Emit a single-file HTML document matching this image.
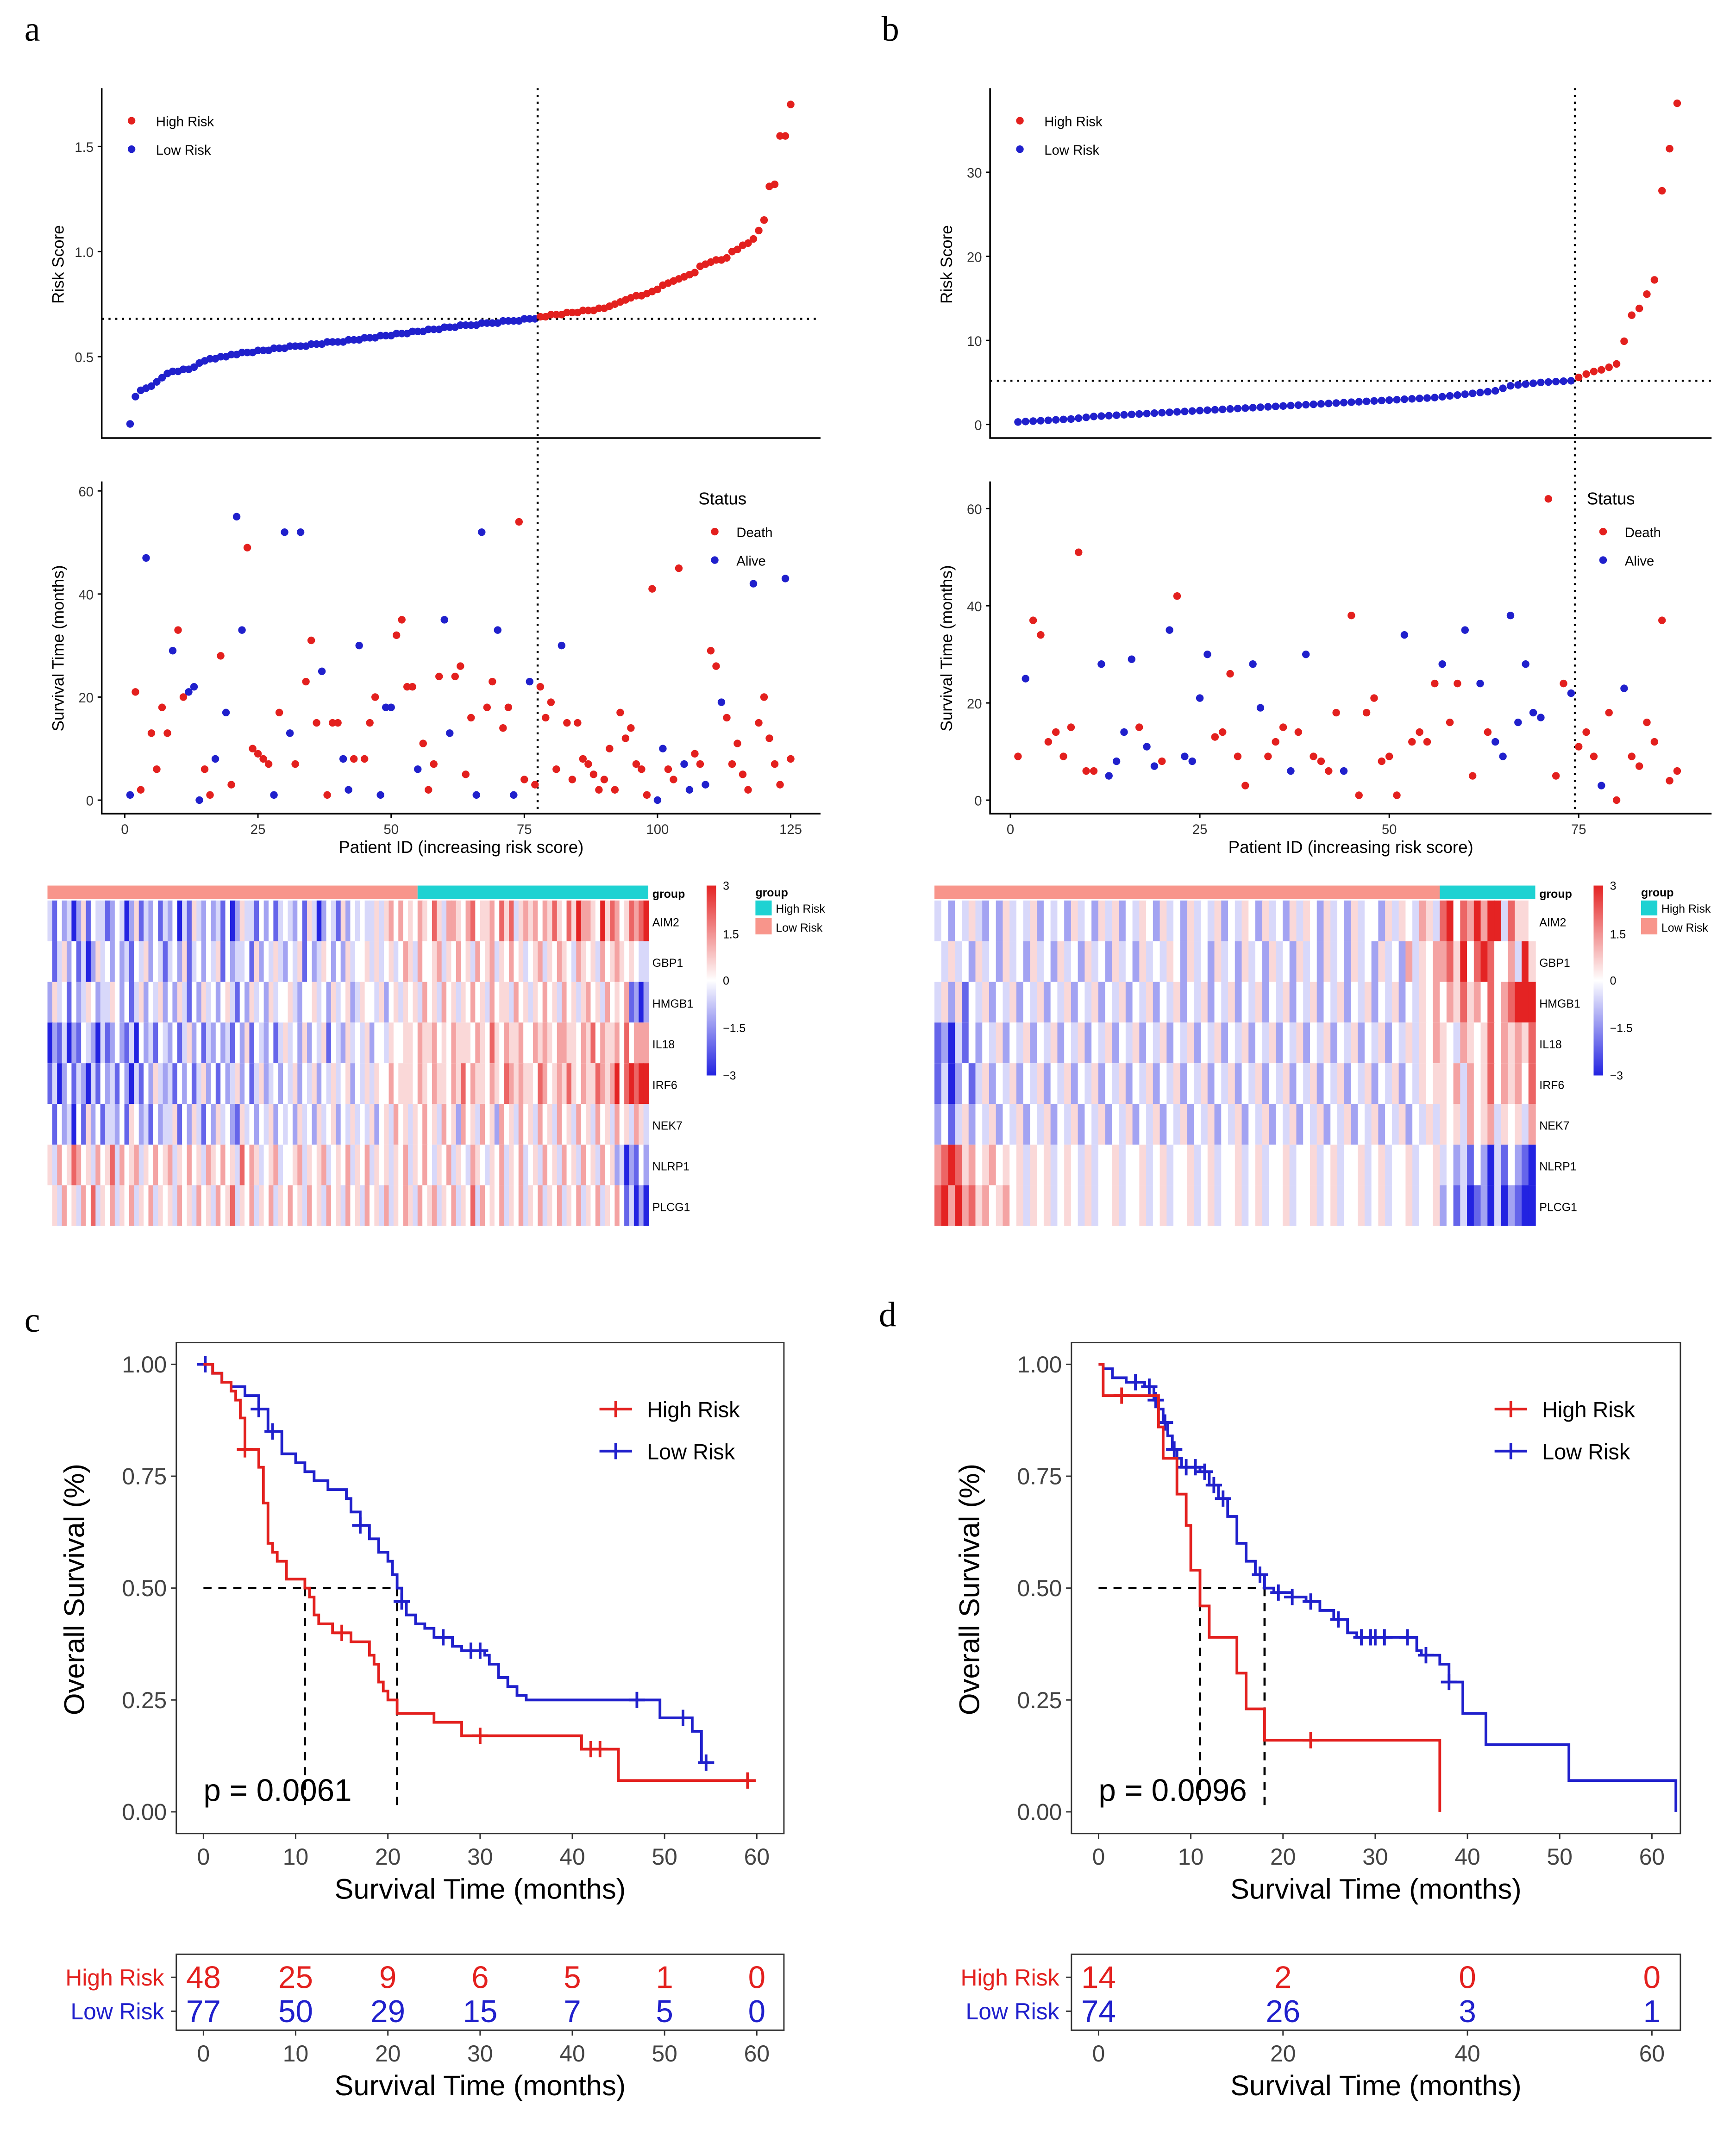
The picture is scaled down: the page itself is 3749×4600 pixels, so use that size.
<!DOCTYPE html>
<html><head><meta charset="utf-8"><style>
html,body{margin:0;padding:0;background:#fff;}
svg{display:block;font-family:"Liberation Sans",Arial,sans-serif;}
</style></head><body>
<svg id="fig" xmlns="http://www.w3.org/2000/svg" width="3749" height="4600" viewBox="0 0 1280 1570.6" preserveAspectRatio="none">
<rect x="0" y="0" width="1280" height="1571" fill="#fff"/>
<text x="18" y="30" font-family="Liberation Serif" font-size="26">a</text>
<text x="650" y="30" font-family="Liberation Serif" font-size="26">b</text>
<text x="18" y="982" font-family="Liberation Serif" font-size="26">c</text>
<text x="648" y="978" font-family="Liberation Serif" font-size="26">d</text>
</svg>
<script>
// ---------- DATA ----------
const aRiskLow=[0.18,0.31,0.34,0.35,0.36,0.38,0.40,0.42,0.43,0.43,0.44,0.44,0.45,0.47,0.48,0.49,0.49,0.50,0.50,0.51,0.51,0.52,0.52,0.52,0.53,0.53,0.53,0.54,0.54,0.54,0.55,0.55,0.55,0.55,0.56,0.56,0.56,0.57,0.57,0.57,0.57,0.58,0.58,0.58,0.59,0.59,0.59,0.60,0.60,0.60,0.61,0.61,0.61,0.62,0.62,0.62,0.63,0.63,0.63,0.64,0.64,0.64,0.65,0.65,0.65,0.65,0.66,0.66,0.66,0.66,0.67,0.67,0.67,0.67,0.68,0.68,0.68];
const aRiskHigh=[0.69,0.69,0.70,0.70,0.70,0.71,0.71,0.71,0.72,0.72,0.72,0.73,0.73,0.74,0.75,0.76,0.77,0.78,0.79,0.79,0.80,0.81,0.82,0.84,0.85,0.86,0.87,0.88,0.89,0.90,0.93,0.94,0.95,0.96,0.96,0.97,1.00,1.01,1.03,1.04,1.06,1.10,1.15,1.31,1.32,1.55,1.55,1.70];
const aCutoff=0.68;
const aTime=[1,21,2,47,13,6,18,13,29,33,20,21,22,0,6,1,8,28,17,3,55,33,49,10,9,8,7,1,17,52,13,7,52,23,31,15,25,1,15,15,8,2,8,30,8,15,20,1,18,18,32,35,22,22,6,11,2,7,24,35,13,24,26,5,16,1,52,18,23,33,14,18,1,54,4,23,3,
22,16,19,6,30,15,4,15,8,7,5,2,4,10,2,17,12,14,7,6,1,41,0,10,6,4,45,7,2,9,7,3,29,26,19,16,7,11,5,2,42,15,20,12,7,3,43,8];
const aStatus=[0,1,1,0,1,1,1,1,0,1,1,0,0,0,1,1,0,1,0,1,0,0,1,1,1,1,1,0,1,0,0,1,0,1,1,1,0,1,1,1,0,0,1,0,1,1,1,0,0,0,1,1,1,1,0,1,1,1,1,0,0,1,1,1,1,0,0,1,1,0,1,1,0,1,1,0,1,
1,1,1,1,0,1,1,1,1,1,1,1,1,1,1,1,1,1,1,1,1,1,0,0,1,1,1,0,0,1,1,0,1,1,0,1,1,1,1,1,0,1,1,1,1,1,0,1];
const bRiskLow=[0.30,0.35,0.40,0.45,0.50,0.55,0.60,0.65,0.75,0.85,0.95,1.0,1.05,1.1,1.15,1.2,1.25,1.3,1.35,1.4,1.45,1.5,1.55,1.6,1.65,1.7,1.75,1.8,1.85,1.9,1.95,2.0,2.05,2.1,2.15,2.2,2.25,2.3,2.35,2.4,2.45,2.5,2.55,2.6,2.65,2.7,2.75,2.8,2.85,2.9,2.95,3.0,3.05,3.1,3.15,3.2,3.3,3.4,3.5,3.6,3.7,3.8,3.9,4.0,4.3,4.6,4.7,4.8,4.9,5.0,5.05,5.1,5.15,5.2];
const bRiskHigh=[5.6,6.0,6.3,6.5,6.8,7.2,9.9,13.0,13.8,15.5,17.2,27.8,32.8,38.2];
const bCutoff=5.2;
const bTime=[9,25,37,34,12,14,9,15,51,6,6,28,5,8,14,29,15,11,7,8,35,42,9,8,21,30,13,14,26,9,3,28,19,9,12,15,6,14,30,9,8,6,18,6,38,1,18,21,8,9,1,34,12,14,12,24,28,16,24,35,5,24,14,12,9,38,16,28,18,17,62,5,24,22,
11,14,9,3,18,0,23,9,7,16,12,37,4,6];
const bStatus=[1,0,1,1,1,1,1,1,1,1,1,0,0,0,0,0,1,0,0,1,0,1,0,0,0,0,1,1,1,1,1,0,0,1,1,1,0,1,0,1,1,1,1,0,1,1,1,1,1,1,1,0,1,1,1,1,0,1,1,0,1,0,1,0,0,0,0,0,0,0,1,1,1,0,
1,1,1,0,1,1,0,1,1,1,1,1,1,1];
const genes=["AIM2","GBP1","HMGB1","IL18","IRF6","NEK7","NLRP1","PLCG1"];
// heatmap levels 0..8 (4 = 0; each step = 0.75)
const aHeat=[
"3142302514331243025132413"+"2403153242314025331424134"+"3241530243152434335356464"+"5465475366546745564757356"+"5646575475866548576457678",
"4135241302534242314352431"+"3425134243514233415243532"+"4351423542425344535345346"+"5364456354645364563546453"+"4563546543654536456545433",
"2534142354233542413524352"+"4253142534245314253425344"+"5324453425345235443524535"+"4536453645354645364553645"+"3546453645356453645461202",
"0213021432031242130423143"+"2413524132423142514324135"+"3425243514325343524435445"+"5465564546555465475465564"+"4656546655465746556474666",
"1302413203142314203142532"+"3142413524142352413523424"+"3524352435345243535446455"+"5465465546574655465476565"+"5476456575465576568478788",
"4142304152413324154231423"+"3514253142534215342435243"+"4253425345243534352453645"+"3546453645264536452645364"+"5364536453645364536453653",
"5364576453645736456354645"+"6354645365464537465345634"+"4563545634546354635453546"+"3546435463543654354635463"+"4536453645364536452302142",
"4536453647354635463546354"+"5364536453645735463546354"+"6453645364536453645363546"+"5364563546354736454635463"+"5463546354635463546413020"];
const bHeat=[
"3424353242534352434253425"+"3524354253425343524354253"+"425354253425344253543653"+"78476868837554",
"4353425342534253425342534"+"2534253435425342534253425"+"342534253425342534263546"+"67584787446385",
"3525143524352435243524352"+"4352435243524352435243524"+"352435243524352435243546"+"46575647467888",
"1203142435243524352435243"+"5243524352435243524352435"+"243524352435243524353546"+"54365457465657",
"1302413524352435243524352"+"4352435243524352435243524"+"352435243524352435243545"+"54636457465647",
"2413524352435243524352435"+"2435243524352435243524352"+"435243524352435243524353"+"54536456354536",
"6787564564545354534543534"+"4534453453445345344534534"+"453445345344534534453445"+"34231420314210",
"7868675645645354534543534"+"4534453453445345344534534"+"453445345344534534453445"+"24130120302100"];
// KM data
const cHighT=[1,2,3,3.5,4,4.5,6,6.5,7,7.5,8,9,11,11.5,12,12.5,14,16,18,18.5,19,19.5,20,21,25,28,41,45];
const cHighS=[.98,.96,.94,.92,.88,.81,.77,.69,.60,.58,.56,.52,.50,.48,.44,.42,.40,.38,.35,.33,.29,.27,.25,.22,.20,.17,.14,.07];
const cHighCens=[4.5,15,30,42,43,59];
const cLowT=[1,2,3,4.5,6,7,8.5,10,11,12,13.5,15.5,16,17,18,19,20,20.5,21,21.5,22,23,24,25,27,28,30.5,31,32,33,34,35,49.5,53,54];
const cLowS=[.98,.96,.95,.93,.90,.85,.80,.78,.76,.74,.72,.70,.67,.64,.61,.58,.56,.53,.50,.47,.44,.42,.41,.39,.37,.36,.35,.33,.30,.28,.26,.25,.21,.18,.11];
const cLowCens=[0.2,6,7.5,17,21.5,26,29,30,47,52,54.5];
const dHighT=[0.5,6.5,7,8.5,9.5,10,11,12,15,16,18,37];
const dHighS=[.93,.86,.79,.71,.64,.54,.46,.39,.31,.23,.16,0];
const dHighCens=[2.5,23];
const dLowT=[0.5,1.5,3,5,6,6.5,7,7.5,8,8.5,9,11,12,13,14,15,16,17,18,19,21,22.5,24,25.5,27,28,34.5,35,37,38,39.5,42,51,62.6];
const dLowS=[.99,.97,.96,.95,.92,.90,.87,.84,.81,.79,.77,.76,.73,.70,.66,.60,.56,.53,.50,.49,.48,.47,.45,.43,.40,.39,.36,.35,.33,.29,.22,.15,.07,0];
const dLowCens=[4,5.5,6.2,7.2,8.2,9.5,10.5,11.5,12.5,13.5,17.5,19.5,21,23,26,28.5,29.5,30,31,33.5,35.5,38];
const cMedians=[11,21];
const dMedians=[11,18];
const cPval="p = 0.0061";
const dPval="p = 0.0096";
const cTableTimes=[0,10,20,30,40,50,60];
const cTableHigh=[48,25,9,6,5,1,0];
const cTableLow=[77,50,29,15,7,5,0];
const dTableTimes=[0,20,40,60];
const dTableHigh=[14,2,0,0];
const dTableLow=[74,26,3,1];
const kmXTicks=[0,10,20,30,40,50,60];
const kmYTicks=[0,0.25,0.5,0.75,1];

// ---------- DRAW ----------
const NS='http://www.w3.org/2000/svg';
const svg=document.getElementById('fig');
const RED='#E3201E', BLUE='#2020CC';
function mk(tag,attrs,parent){const e=document.createElementNS(NS,tag);for(const k in attrs)e.setAttribute(k,attrs[k]);(parent||svg).appendChild(e);return e;}
function tx(x,y,s,attrs,parent){const e=mk('text',Object.assign({x:x,y:y},attrs||{}),parent);e.textContent=s;return e;}
function lin(d0,d1,p0,p1){return v=>p0+(v-d0)*(p1-p0)/(d1-d0);}

function riskPanel(o){
  const g=mk('g',{});
  
  
  const scores=o.low.concat(o.high);
  const x=lin(0,o.xmax,o.x0,o.x1), y=o.ry;
  let ax=mk('path',{d:`M${o.left} ${o.rTop} V${o.rBot} H${o.right}`,stroke:'#000','stroke-width':1.2,fill:'none'},g);
  
  
  o.rTicks.forEach(t=>{
    const yy=y(t);
    mk('line',{x1:o.left-3,x2:o.left,y1:yy,y2:yy,stroke:'#000'},g);
    const l=tx(o.left-6,yy+4,String(o.rTickFmt(t)),{'font-size':10,'text-anchor':'end',fill:'#333'},g);
    
    
  });
  const yt=tx(0,0,'Risk Score',{'font-size':12,'text-anchor':'middle',transform:`translate(${o.left-28},195) rotate(-90)`},g);
  
  
  const hc=mk('line',{x1:o.left,x2:o.right,y1:y(o.cutoff),y2:y(o.cutoff),stroke:'#000','stroke-width':1.5,'stroke-dasharray':'1.5,3.5'},g);
  
  
  scores.forEach((v,i)=>{
    const c=mk('circle',{cx:x(i+1),cy:y(v),r:2.8,fill:i<o.low.length?BLUE:RED},g);
    
    
  });
  const xc=x(o.low.length+0.5);
  const vc=mk('line',{x1:xc,x2:xc,y1:o.rTop,y2:o.sBot,stroke:'#000','stroke-width':1.5,'stroke-dasharray':'1.5,3.5'});
  
  
  [['High Risk',RED,89],['Low Risk',BLUE,110]].forEach(([lab,col,yy])=>{
    const c=mk('circle',{cx:o.left+22,cy:yy,r:2.8,fill:col},g);
    
    
    const t=tx(o.left+40,yy+4,lab,{'font-size':10},g);
    
    
  });
  const g2=mk('g',{});
  
  
  const sy=o.sy;
  const ax2=mk('path',{d:`M${o.left} ${o.sTop} V${o.sBot} H${o.right}`,stroke:'#000','stroke-width':1.2,fill:'none'},g2);
  
  
  [0,20,40,60].forEach(t=>{
    const yy=sy(t);
    mk('line',{x1:o.left-3,x2:o.left,y1:yy,y2:yy,stroke:'#000'},g2);
    const l=tx(o.left-6,yy+4,String(t),{'font-size':10,'text-anchor':'end',fill:'#333'},g2);
    
    
  });
  o.xTicks.forEach(t=>{
    const xx=x(t);
    mk('line',{x1:xx,x2:xx,y1:o.sBot,y2:o.sBot+3,stroke:'#000'},g2);
    const l=tx(xx,o.sBot+15,String(t),{'font-size':10,'text-anchor':'middle',fill:'#333'},g2);
    
    
  });
  const xt=tx((o.left+o.right)/2,629,'Patient ID (increasing risk score)',{'font-size':12.5,'text-anchor':'middle'},g2);
  
  
  const yt2=tx(0,0,'Survival Time (months)',{'font-size':12,'text-anchor':'middle',transform:`translate(${o.left-28},478) rotate(-90)`},g2);
  
  
  o.time.forEach((v,i)=>{
    const c=mk('circle',{cx:x(i+1),cy:sy(v),r:2.8,fill:o.status[i]?RED:BLUE},g2);
    
    
  });
  const st=tx(o.legX,372,'Status',{'font-size':12.5},g2);
  
  
  [['Death',RED,392],['Alive',BLUE,413]].forEach(([lab,col,yy])=>{
    const c=mk('circle',{cx:o.legX+12,cy:yy,r:2.8,fill:col},g2);
    
    
    const t=tx(o.legX+28,yy+4,lab,{'font-size':10},g2);
    
    
  });
}

function heatColor(level){
  const v=(level-4)/4;
  const t=Math.pow(Math.min(1,Math.abs(v)),1.25);
  const end=v<0?[35,35,225]:[228,35,35];
  const c=end.map(e=>Math.round(255+(e-255)*t));
  return `rgb(${c[0]},${c[1]},${c[2]})`;
}
function heatmap(o){
  const g=mk('g',{});
  
  
  const W=o.x1-o.x0, rowH=30, top=664;
  const split=o.x0+W*o.nLow/o.nTotal;
  const gl=mk('rect',{x:o.x0,y:653,width:split-o.x0,height:10,fill:'#F8958B'},g);
  
  
  const gh=mk('rect',{x:split,y:653,width:o.x1-split,height:10,fill:'#1ED2D2'},g);
  
  
  const gt=tx(o.x1+3,662,'group',{'font-size':8.5,'font-weight':'bold'},g);
  
  
  o.rows.forEach((row,r)=>{
    const n=row.length, cw=W/n;
    for(let i=0;i<n;i++){
      const c=mk('rect',{x:o.x0+i*cw,y:top+r*rowH,width:cw+0.4,height:rowH,fill:heatColor(+row[i])},g);
      
      
    }
    const l=tx(o.x1+3,top+r*rowH+19,genes[r],{'font-size':8.5},g);
    
    
  });
  const defs=mk('defs',{},g);
  const gr=mk('linearGradient',{id:o.name+'grad',x1:0,y1:0,x2:0,y2:1},defs);
  mk('stop',{offset:'0','stop-color':'rgb(228,35,35)'},gr);
  mk('stop',{offset:'0.5','stop-color':'#fff'},gr);
  mk('stop',{offset:'1','stop-color':'rgb(35,35,225)'},gr);
  const cb=mk('rect',{x:o.cbX,y:653,width:7,height:140,fill:`url(#${o.name}grad)`},g);
  
  
  [['3',656],['1.5',692],['0',726],['\u22121.5',761],['\u22123',796]].forEach(([s,yy])=>{
    const t=tx(o.cbX+12,yy,s,{'font-size':8.5},g);
    
    
  });
  const lg=tx(o.gX,661,'group',{'font-size':8.5,'font-weight':'bold'},g);
  
  
  const s1=mk('rect',{x:o.gX,y:664,width:12,height:11,fill:'#1ED2D2'},g);
  
  
  const s2=mk('rect',{x:o.gX,y:677,width:12,height:12,fill:'#F8958B'},g);
  
  
  const t1=tx(o.gX+15,673,'High Risk',{'font-size':8.5},g);
  
  
  const t2=tx(o.gX+15,687,'Low Risk',{'font-size':8.5},g);
  
  
}

function stepAt(T,S,t){let s=1;for(let i=0;i<T.length;i++){if(T[i]<=t)s=S[i];}return s;}
function km(o){
  const g=mk('g',{});
  
  
  const x=lin(0,60,o.x0,o.x0+408), y=lin(0,1,1336,1006);
  const box=mk('rect',{x:o.left,y:990,width:o.right-o.left,height:362,fill:'none',stroke:'#333','stroke-width':1},g);
  
  
  kmYTicks.forEach(t=>{
    mk('line',{x1:o.left-4,x2:o.left,y1:y(t),y2:y(t),stroke:'#333'},g);
    const l=tx(o.left-7,y(t)+6,t.toFixed(2),{'font-size':17,'text-anchor':'end',fill:'#444'},g);
    
    
  });
  kmXTicks.forEach(t=>{
    mk('line',{x1:x(t),x2:x(t),y1:1352,y2:1356,stroke:'#333'},g);
    const l=tx(x(t),1375,String(t),{'font-size':17,'text-anchor':'middle',fill:'#444'},g);
    
    
  });
  const xt=tx((o.left+o.right)/2,1400,'Survival Time (months)',{'font-size':21,'text-anchor':'middle'},g);
  
  
  const yt=tx(0,0,'Overall Survival (%)',{'font-size':21,'text-anchor':'middle',transform:`translate(${o.left-68},1172) rotate(-90)`},g);
  
  
  const m=o.med;
  const ml=mk('path',{d:`M${x(0)} ${y(0.5)} H${x(m[1])} M${x(m[0])} ${y(0.5)} V${y(0)} M${x(m[1])} ${y(0.5)} V${y(0)}`,stroke:'#000','stroke-width':1.6,'stroke-dasharray':'6,5',fill:'none'},g);
  
  
  function curve(T,S,cens,end,col,nm){
    let d=`M${x(0)} ${y(1)}`;
    for(let i=0;i<T.length;i++){d+=` H${x(T[i])} V${y(S[i])}`;}
    d+=` H${x(end)}`;
    const p=mk('path',{d:d,stroke:col,'stroke-width':2,fill:'none'},g);
    
    
    cens.forEach(t=>{
      const cx=x(t), cy=y(stepAt(T,S,t));
      const c=mk('path',{d:`M${cx-6} ${cy} H${cx+6} M${cx} ${cy-6} V${cy+6}`,stroke:col,'stroke-width':2},g);
      
      
    });
  }
  curve(o.lowT,o.lowS,o.lowC,o.lowEnd,BLUE,'low-risk');
  curve(o.highT,o.highS,o.highC,o.highEnd,RED,'high-risk');
  const pv=tx(x(0),1328,o.p,{'font-size':23},g);
  
  
  [['High Risk',RED,1039],['Low Risk',BLUE,1070]].forEach(([lab,col,yy])=>{
    const lx=o.legX;
    const lm=mk('path',{d:`M${lx} ${yy} H${lx+24} M${lx+12} ${yy-6} V${yy+6}`,stroke:col,'stroke-width':2},g);
    
    
    const t=tx(lx+35,yy+6,lab,{'font-size':16},g);
    
    
  });
  const tg=mk('g',{});
  
  
  const tb=mk('rect',{x:o.left,y:1441,width:o.right-o.left,height:56,fill:'none',stroke:'#333'},tg);
  
  
  [['High Risk',RED,1466,o.tHigh],['Low Risk',BLUE,1491,o.tLow]].forEach(([lab,col,yy,vals])=>{
    mk('line',{x1:o.left-4,x2:o.left,y1:yy-8,y2:yy-8,stroke:'#333'},tg);
    const l=tx(o.left-9,yy-2,lab,{'font-size':17,'text-anchor':'end',fill:col},tg);
    
    
    o.tTimes.forEach((t,i)=>{
      const v=tx(x(t),yy,String(vals[i]),{'font-size':23,'text-anchor':'middle',fill:col},tg);
      
      
    });
  });
  o.tTimes.forEach(t=>{
    mk('line',{x1:x(t),x2:x(t),y1:1497,y2:1501,stroke:'#333'},tg);
    const l=tx(x(t),1520,String(t),{'font-size':17,'text-anchor':'middle',fill:'#444'},tg);
    
    
  });
  const tt=tx((o.left+o.right)/2,1545,'Survival Time (months)',{'font-size':21,'text-anchor':'middle'},tg);
  
  
}

riskPanel({name:'panel-a',low:aRiskLow,high:aRiskHigh,cutoff:aCutoff,time:aTime,status:aStatus,
  xmax:125,x0:92,x1:583,left:75,right:605,rTop:65,rBot:323,sTop:355,sBot:600,
  ry:lin(0.5,1.5,263,108),rTicks:[0.5,1.0,1.5],rTickFmt:t=>t.toFixed(1),sy:lin(0,60,590,362),
  xTicks:[0,25,50,75,100,125],legX:515});
riskPanel({name:'panel-b',low:bRiskLow,high:bRiskHigh,cutoff:bCutoff,time:bTime,status:bStatus,
  xmax:75,x0:745,x1:1164,left:730,right:1262,rTop:65,rBot:323,sTop:355,sBot:600,
  ry:lin(0,30,313,127),rTicks:[0,10,20,30],rTickFmt:t=>t,sy:lin(0,60,590,375),
  xTicks:[0,25,50,75],legX:1170});
heatmap({name:'panel-a',rows:aHeat,x0:35,x1:478,nLow:77,nTotal:125,cbX:521,gX:557});
heatmap({name:'panel-b',rows:bHeat,x0:689,x1:1132,nLow:74,nTotal:88,cbX:1175,gX:1210});
km({name:'panel-c',x0:150,left:130,right:578,highT:cHighT,highS:cHighS,highC:cHighCens,highEnd:59,
  lowT:cLowT,lowS:cLowS,lowC:cLowCens,lowEnd:55,med:cMedians,p:cPval,legX:442,
  tTimes:cTableTimes,tHigh:cTableHigh,tLow:cTableLow});
km({name:'panel-d',x0:810,left:790,right:1239,highT:dHighT,highS:dHighS,highC:dHighCens,highEnd:37,
  lowT:dLowT,lowS:dLowS,lowC:dLowCens,lowEnd:62.6,med:dMedians,p:dPval,legX:1102,
  tTimes:dTableTimes,tHigh:dTableHigh,tLow:dTableLow});
</script>
</body></html>
